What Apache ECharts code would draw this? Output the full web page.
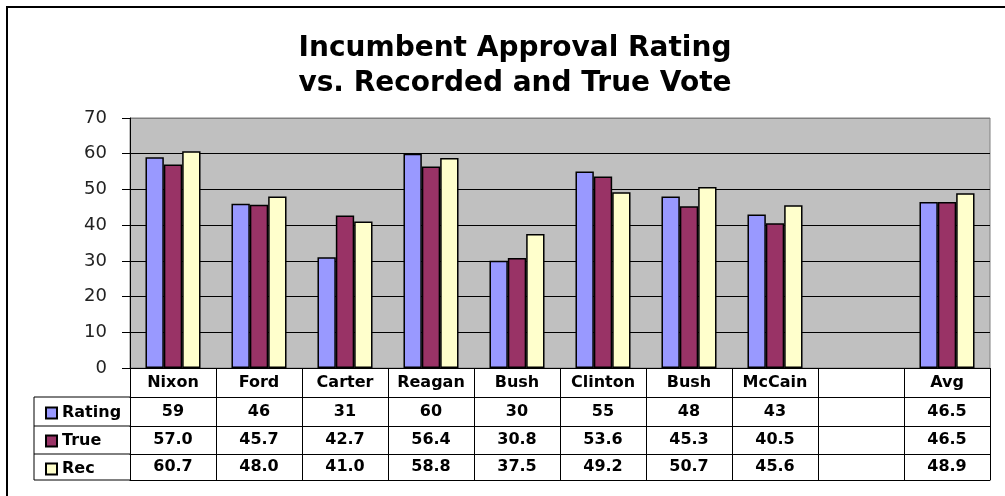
<!DOCTYPE html>
<html>
<head>
<meta charset="utf-8">
<script src="https://cdn.jsdelivr.net/npm/echarts@6/dist/echarts.min.js"></script>
<style>
  html, body { margin: 0; padding: 0; background: #fff; }
  #chart { width: 1005px; height: 496px; }
</style>
</head>
<body>
<div id="chart"></div>
<script>
// data
const categories = ['Nixon', 'Ford', 'Carter', 'Reagan', 'Bush', 'Clinton', 'Bush', 'McCain', '', 'Avg'];
const ratingValues = [59, 46, 31, 60, 30, 55, 48, 43, null, 46.5];
const trueValues = [57.0, 45.7, 42.7, 56.4, 30.8, 53.6, 45.3, 40.5, null, 46.5];
const recValues = [60.7, 48.0, 41.0, 58.8, 37.5, 49.2, 50.7, 45.6, null, 48.9];
const yTicks = [0, 10, 20, 30, 40, 50, 60, 70];

const FONT = "'DejaVu Sans', Arial, sans-serif";

function rowText(arr, digits) {
    return arr.map(function (v) {
        if (v == null) return '';
        return digits == null ? String(v) : v.toFixed(digits);
    });
}

// one category axis per table row, stacked under the plot
function tableAxis(data, offset, tickLen, margin, showLabel) {
    return {
        type: 'category',
        gridIndex: 0,
        position: 'bottom',
        offset: offset,
        data: data,
        boundaryGap: true,
        axisLine: { show: true, lineStyle: { color: '#000', width: 1 } },
        axisTick: { show: tickLen > 0, interval: 0, length: tickLen, lineStyle: { color: '#000', width: 1 } },
        axisLabel: {
            show: showLabel,
            interval: 0,
            margin: margin,
            color: '#000',
            fontFamily: FONT,
            fontWeight: 'bold',
            fontSize: 16,
            lineHeight: 16
        },
        splitLine: { show: false }
    };
}

let chart = echarts.init(document.getElementById('chart'));
chart.setOption({
    backgroundColor: '#fff',
    animation: false,
    title: {
        text: 'Incumbent Approval Rating\nvs. Recorded and True Vote',
        left: 510,
        textAlign: 'center',
        top: 26,
        textStyle: {
            fontFamily: FONT,
            fontWeight: 'bold',
            fontSize: 28,
            lineHeight: 35,
            color: '#000'
        }
    },
    legend: {
        data: ['Rating', 'True', 'Rec'],
        orient: 'vertical',
        left: 40,
        top: 400,
        icon: 'rect',
        itemWidth: 11,
        itemHeight: 11,
        itemGap: 12,
        selectedMode: false,
        textStyle: {
            fontFamily: FONT,
            fontWeight: 'bold',
            fontSize: 16,
            lineHeight: 16,
            color: '#000'
        }
    },
    grid: {
        left: 130,
        right: 15,
        top: 118,
        bottom: 128,
        show: true,
        backgroundColor: '#C0C0C0',
        borderColor: '#808080',
        borderWidth: 1
    },
    xAxis: [
        tableAxis(categories, 0, 29, 7, true),
        tableAxis(rowText(ratingValues), 29, 29, 7, true),
        tableAxis(rowText(trueValues, 1), 58, 28, 6, true),
        tableAxis(rowText(recValues, 1), 86, 26, 5, true),
        tableAxis(categories, 112, 0, 0, false)
    ],
    yAxis: {
        type: 'value',
        min: yTicks[0],
        max: yTicks[yTicks.length - 1],
        interval: 10,
        axisLine: { show: true, lineStyle: { color: '#000', width: 1 } },
        axisTick: { show: true, length: 8, lineStyle: { color: '#000' } },
        axisLabel: {
            margin: 23,
            color: '#222',
            fontFamily: FONT,
            fontSize: 18
        },
        splitLine: {
            show: true,
            lineStyle: {
                color: ['#000', '#000', '#000', '#000', '#000', '#000', '#000', '#808080'],
                width: 1
            }
        }
    },
    series: [
        {
            name: 'Rating',
            type: 'bar',
            data: ratingValues,
            barGap: '0%',
            barCategoryGap: '36%',
            itemStyle: { color: '#9999FF', borderColor: '#000', borderWidth: 1.5 }
        },
        {
            name: 'True',
            type: 'bar',
            data: trueValues,
            itemStyle: { color: '#993366', borderColor: '#000', borderWidth: 1.5 }
        },
        {
            name: 'Rec',
            type: 'bar',
            data: recValues,
            itemStyle: { color: '#FFFFCC', borderColor: '#000', borderWidth: 1.5 }
        }
    ],
    graphic: [
        // outer frame
        {
            type: 'polyline',
            shape: { points: [[7, 496], [7, 7], [1005, 7]] },
            style: { stroke: '#000', lineWidth: 2, fill: null }
        },
        // legend column of the data table
        {
            type: 'polyline',
            shape: { points: [[130, 397], [34, 397], [34, 480], [130, 480]] },
            style: { stroke: '#000', lineWidth: 1, fill: null }
        },
        {
            type: 'line',
            shape: { x1: 34, y1: 426, x2: 130, y2: 426 },
            style: { stroke: '#000', lineWidth: 1 }
        },
        {
            type: 'line',
            shape: { x1: 34, y1: 454, x2: 130, y2: 454 },
            style: { stroke: '#000', lineWidth: 1 }
        }
    ]
});
</script>
</body>
</html>
